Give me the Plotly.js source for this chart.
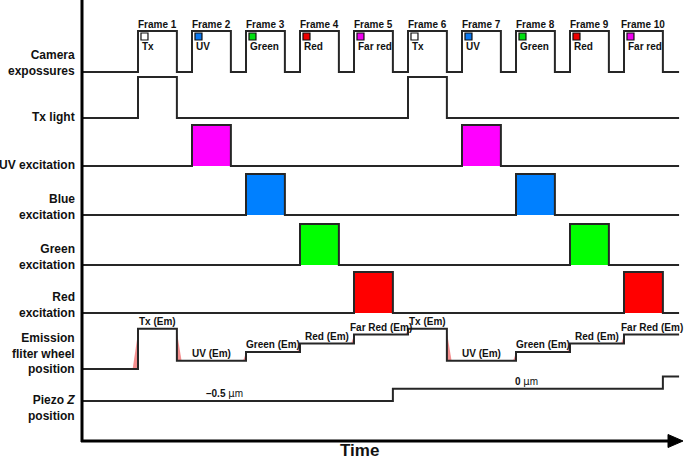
<!DOCTYPE html>
<html>
<head>
<meta charset="utf-8">
<script src="https://cdn.plot.ly/plotly-3.0.1.min.js"></script>
<style>html,body{margin:0;padding:0;background:#fff}#chart{width:685px;height:461px}</style>
</head>
<body>
<div id="chart"></div>
<script>
// ---------------- DATA (time in frame periods) ----------------
const frameNumbers = [1, 2, 3, 4, 5, 6, 7, 8, 9, 10];
const frameStarts = [1, 2, 3, 4, 5, 6, 7, 8, 9, 10];
const exposureWidth = 0.72;
const frameChannels = ['Tx', 'UV', 'Green', 'Red', 'Far red', 'Tx', 'UV', 'Green', 'Red', 'Far red'];
const channelSwatchColors = { 'Tx': '#ffffff', 'UV': '#0a78f0', 'Green': '#00e010', 'Red': '#f00000', 'Far red': '#f000f0' };

const txLightFrames = [1, 6];

const excitationNames = ['UV', 'Blue', 'Green', 'Red'];
const excitationFrames = [[2, 7], [3, 8], [4, 9], [5, 10]];
const excitationColors = ['#ff00ff', '#0080ff', '#00ff00', '#ff0000'];

const emissionChangeTimes = [1, 1.72, 3, 4, 5, 6, 6.72, 8, 9, 10];
const emissionPositions = ['Tx', 'UV', 'Green', 'Red', 'Far Red', 'Tx', 'UV', 'Green', 'Red', 'Far Red'];
const emissionLevelOf = { 'Home': 0, 'Tx': 0.98, 'UV': 0.2, 'Green': 0.415, 'Red': 0.62, 'Far Red': 0.84 };

const piezoChangeTimes = [5.72, 10.72];
const piezoValuesUm = [-0.5, 0, 0.5];

const rowLabels = ['Camera<br>expossures', 'Tx light', 'UV excitation', 'Blue<br>excitation',
  'Green<br>excitation', 'Red<br>excitation', 'Emission<br>fliter wheel<br>position', 'Piezo <i>Z</i><br>position'];

// ---------------- LAYOUT CONSTANTS ----------------
const FONT = 'Liberation Sans, Arial, Helvetica, sans-serif';
const LINE = '#262626';
const tStart = -0.02, tEnd = 11.02;
const rowBase = [9.0, 7.88, 6.71, 5.51, 4.29, 3.12, 1.756, 0.976];
const H = 1;
const piezoScale = 0.6; // units per µm
const PW = 603, PH = 441;
const px = p => (p - 82) / PW, py = p => (441 - p) / PH;

const traces = [];
const annotations = [];
const shapes = [];

function pulseWave(starts, base) {
  const x = [tStart], y = [base];
  starts.forEach(s => {
    x.push(s, s, s + exposureWidth, s + exposureWidth);
    y.push(base, base + H, base + H, base);
  });
  x.push(tEnd); y.push(base);
  return { x, y };
}
function lineTrace(w) {
  return { type: 'scatter', mode: 'lines', x: w.x, y: w.y, line: { color: LINE, width: 2 }, hoverinfo: 'skip' };
}

// Camera exposures
traces.push(lineTrace(pulseWave(frameStarts, rowBase[0])));
// Tx light
traces.push(lineTrace(pulseWave(txLightFrames, rowBase[1])));
// Excitation rows
excitationNames.forEach((n, i) => {
  const base = rowBase[2 + i];
  excitationFrames[i].forEach(f => {
    traces.push({ type: 'scatter', mode: 'lines', fill: 'toself', fillcolor: excitationColors[i],
      x: [f, f, f + exposureWidth, f + exposureWidth, f], y: [base, base + H, base + H, base, base],
      line: { color: 'rgba(0,0,0,0)', width: 0 }, hoverinfo: 'skip' });
  });
  traces.push(lineTrace(pulseWave(excitationFrames[i], base)));
});

// Emission filter wheel
{
  const base = rowBase[6];
  const x = [tStart], y = [base];
  let prev = emissionLevelOf['Home'];
  emissionChangeTimes.forEach((t, i) => {
    const lv = emissionLevelOf[emissionPositions[i]];
    const dl = Math.abs(lv - prev);
    const w = 0.04 + 0.06 * dl;
    let wx, wy;
    if (lv > prev) {
      wx = [t, t - w, t, t]; wy = [base + lv - 0.1 * dl, base + prev, base + prev, base + lv - 0.1 * dl];
    } else {
      wx = [t, t + w, t, t]; wy = [base + prev - 0.1 * dl, base + lv, base + lv, base + prev - 0.1 * dl];
    }
    traces.push({ type: 'scatter', mode: 'lines', fill: 'toself', fillcolor: 'rgba(240,95,95,0.7)',
      x: wx, y: wy, line: { width: 0, color: 'rgba(0,0,0,0)' }, hoverinfo: 'skip' });
    x.push(t, t); y.push(base + prev, base + lv);
    prev = lv;
    const tNext = i + 1 < emissionChangeTimes.length ? emissionChangeTimes[i + 1] : tEnd;
    annotations.push({ x: (t + tNext) / 2, y: base + lv, xref: 'x', yref: 'y', xanchor: 'center', yanchor: 'bottom',
      yshift: 0, showarrow: false, text: '<b>' + emissionPositions[i] + ' (Em)</b>', font: { family: FONT, size: 10, color: '#111' } });
  });
  x.push(tEnd); y.push(base + prev);
  traces.push(lineTrace({ x, y }));
}

// Piezo Z
{
  const base = rowBase[7];
  const lv = v => base + (v - piezoValuesUm[0]) * piezoScale;
  const x = [tStart], y = [lv(piezoValuesUm[0])];
  piezoChangeTimes.forEach((t, i) => {
    x.push(t, t); y.push(lv(piezoValuesUm[i]), lv(piezoValuesUm[i + 1]));
  });
  x.push(tEnd); y.push(lv(piezoValuesUm[piezoValuesUm.length - 1]));
  traces.push(lineTrace({ x, y }));
  const labelX = [2.61, 8.2];
  [0, 1].forEach(i => {
    annotations.push({ x: labelX[i], y: lv(piezoValuesUm[i]), xref: 'x', yref: 'y', xanchor: 'center', yanchor: 'bottom',
      yshift: 0, showarrow: false,
      text: '<b>' + (piezoValuesUm[i] < 0 ? '–' + Math.abs(piezoValuesUm[i]) : String(piezoValuesUm[i])) + '</b> <span style="font-family:DejaVu Sans">µ</span>m',
      font: { family: FONT, size: 10, color: '#111' } });
  });
}

// Frame swatches (markers)
traces.push({ type: 'scatter', mode: 'markers', x: frameStarts.map(s => s + 0.12), y: frameStarts.map(() => rowBase[0] + H - 0.134),
  marker: { symbol: 'square', size: 7, color: frameChannels.map(c => channelSwatchColors[c]), line: { color: '#111', width: 1.2 } },
  hoverinfo: 'skip' });

// Frame labels and channel labels
frameStarts.forEach((s, i) => {
  annotations.push({ x: s + exposureWidth / 2, y: rowBase[0] + H, xref: 'x', yref: 'y', xanchor: 'center', yanchor: 'bottom',
    yshift: -1, showarrow: false, text: '<b>Frame ' + frameNumbers[i] + '</b>', font: { family: FONT, size: 10, color: '#111' } });
  annotations.push({ x: s + 0.03, y: rowBase[0] + H - 0.39, xref: 'x', yref: 'y', xanchor: 'left', yanchor: 'middle',
    showarrow: false, text: '<b>' + frameChannels[i] + '</b>', font: { family: FONT, size: 10, color: '#111' } });
});

// Row labels (paper x so they are drawn in the left margin)
rowLabels.forEach((lab, i) => {
  const isPiezo = i === 7;
  annotations.push({ x: px(77), y: rowBase[i] / (PH / 41), xref: 'paper', yref: 'paper', xanchor: 'right',
    yanchor: isPiezo ? 'top' : 'bottom', yshift: isPiezo ? 10 : -8.5, align: 'right', showarrow: false,
    text: '<b>' + lab + '</b>', font: { family: FONT, size: 12, color: '#111' } });
});

// Time label
annotations.push({ x: px(359), y: py(461), xref: 'paper', yref: 'paper', xanchor: 'center', yanchor: 'bottom',
  yshift: -1.5, showarrow: false, text: '<b>Time</b>', font: { family: FONT, size: 17, color: '#111' } });

// Axes lines and arrow
shapes.push({ type: 'line', xref: 'paper', yref: 'paper', x0: 0, x1: 0, y0: py(442), y1: 1, line: { color: '#000', width: 3 } });
shapes.push({ type: 'line', xref: 'paper', yref: 'paper', x0: px(81), x1: px(672), y0: 0, y1: 0, line: { color: '#000', width: 3 } });
shapes.push({ type: 'path', xref: 'paper', yref: 'paper',
  path: `M ${px(668)} ${py(434.5)} L ${px(683)} ${py(441)} L ${px(668)} ${py(447.5)} Z`,
  fillcolor: '#000', line: { color: '#000', width: 1 } });

const layout = {
  width: 685, height: 461,
  margin: { l: 82, r: 0, t: 0, b: 20, pad: 0 },
  paper_bgcolor: '#fff', plot_bgcolor: '#fff',
  showlegend: false,
  xaxis: { range: [-2 / 54, -2 / 54 + PW / 54], visible: false, fixedrange: true },
  yaxis: { range: [0, PH / 41], visible: false, fixedrange: true },
  annotations, shapes
};
Plotly.newPlot('chart', traces, layout, { displayModeBar: false, staticPlot: true });
</script>
</body>
</html>
